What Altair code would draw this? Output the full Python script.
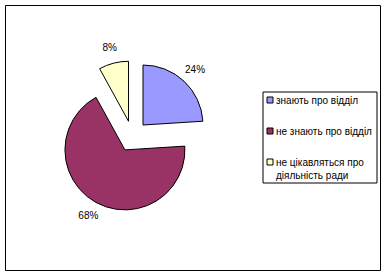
import altair as alt
import pandas as pd

categories = ["знають про відділ", "не знають про відділ", "не цікавляться про діяльність ради"]
legend_labels = ["знають про відділ", "не знають про відділ", "не цікавляться про\nдіяльність ради"]
values = [24, 68, 8]
labels = ["24%", "68%", "8%"]
colors = ["#9999FF", "#993366", "#FFFFCC"]

df = pd.DataFrame({"cat": categories, "legend": legend_labels, "value": values,
                   "label": labels, "order": [0, 1, 2]})

# layout (pixels, plot-area coordinates)
W, H = 375, 265
CX, CY = 127.4, 131.3   # pie centre
EXPLODE = 15.5          # explode distance
R = 60                  # pie radius
LR = 76                 # label distance from slice vertex
LEG_X0, LEG_X1, LEG_Y0, LEG_Y1 = 258, 372, 87, 178   # legend box
SYM_X, TXT_X, ROW0, ROW_STEP = 265, 271, 95, 31

color_scale = alt.Scale(domain=categories, range=colors)
theta_scale = alt.Scale(domain=[0, 100], range=[0, 6.283185307179586])
xs = alt.Scale(domain=[0, W], range=[0, W], nice=False, zero=False)
ys = alt.Scale(domain=[0, H], range=[0, H], nice=False, zero=False)

base = alt.Chart(df).transform_window(
    end="sum(value)", sort=[alt.SortField("order")], frame=[None, 0]
).transform_calculate(
    start="datum.end - datum.value",
    mid="(datum.end - datum.value / 2) / 100 * 2 * PI",
    sy=f"{ROW0} + {ROW_STEP} * datum.order",
).transform_calculate(
    cx=f"{CX} + {EXPLODE} * sin(datum.mid)",
    cy=f"{CY} - {EXPLODE} * cos(datum.mid)",
    ty="datum.sy + 3.5",
).transform_calculate(
    lx=f"datum.cx + {LR} * sin(datum.mid)",
    ly=f"datum.cy - {LR} * cos(datum.mid)",
)

arcs = base.mark_arc(radius=R, stroke="black", strokeWidth=1).encode(
    theta=alt.Theta("start:Q", scale=theta_scale),
    theta2="end:Q",
    x=alt.X("cx:Q", scale=xs, axis=None),
    y=alt.Y("cy:Q", scale=ys, axis=None),
    color=alt.Color("cat:N", scale=color_scale, legend=None),
)

texts = base.mark_text(font="Liberation Sans", fontSize=10, color="black").encode(
    x=alt.X("lx:Q", scale=xs, axis=None),
    y=alt.Y("ly:Q", scale=ys, axis=None),
    text="label:N",
)

# legend
box = alt.Chart(pd.DataFrame({"k": [0]})).mark_rect(
    fill="white", stroke="black", strokeWidth=1
).encode(
    x=alt.value(LEG_X0), x2=alt.value(LEG_X1), y=alt.value(LEG_Y0), y2=alt.value(LEG_Y1)
)

symbols = base.mark_square(size=36, stroke="black", strokeWidth=1, opacity=1).encode(
    x=alt.value(SYM_X),
    y=alt.Y("sy:Q", scale=ys, axis=None),
    color=alt.Color("cat:N", scale=color_scale, legend=None),
)

leg_text = base.mark_text(
    font="Liberation Sans", fontSize=10, color="black", align="left",
    baseline="alphabetic", lineBreak="\n", lineHeight=13.5,
).encode(
    x=alt.value(TXT_X),
    y=alt.Y("ty:Q", scale=ys, axis=None),
    text="legend:N",
)

chart = alt.layer(arcs, texts, box, symbols, leg_text).properties(
    width=W,
    height=H,
    padding={"left": 5, "top": 5, "right": 6, "bottom": 6},
    autosize=alt.AutoSizeParams(type="none"),
    background="white",
).configure_view(stroke="black", strokeWidth=1, fill="white")

chart.save("out.html", embed_options={"renderer": "svg", "actions": False})
